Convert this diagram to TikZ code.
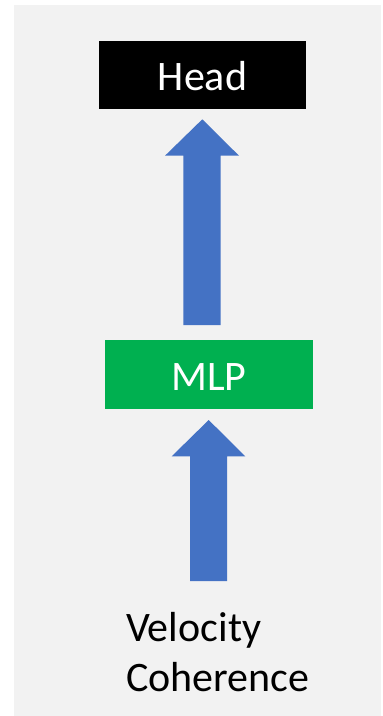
\documentclass[tikz,border=0pt]{standalone}
\usepackage{fontspec}
\setmainfont{Carlito}
\definecolor{bggray}{HTML}{F2F2F2}
\definecolor{arrowblue}{HTML}{4472C4}
\definecolor{mlpgreen}{HTML}{00B050}
\begin{document}
\begin{tikzpicture}[x=1pt,y=-1pt,
  box/.style={draw=none,inner sep=0pt,text=white,font=\fontsize{42}{50}\selectfont},
  label/.style={inner sep=0pt,anchor=base west,font=\fontsize{42}{50}\selectfont},
  blockarrow/.style={fill=arrowblue,draw=none}]
\useasboundingbox (0,0) rectangle (383,716);
\fill[bggray] (14,5) rectangle (381,716);
\node[box,fill=black,minimum width=207pt,minimum height=68pt] (head) at (202.5,75) {};
\node[box,anchor=base] (headtxt) at (202.5,90) {Head};
\node[box,fill=mlpgreen,minimum width=208pt,minimum height=69pt] (mlp) at (209,374.5) {};
\node[box,anchor=base] (mlptxt) at (209,390) {MLP};
\node[label] (vel) at (126,641) {Velocity};
\node[label] (coh) at (126,691) {Coherence};
% upper block arrow (MLP -> Head)
\fill[blockarrow] (183.3,325) -- (183.3,155.7) -- (165,155.7) -- (202.3,119.3) -- (239,155.7) -- (220.7,155.7) -- (220.7,325) -- cycle;
% lower block arrow (input -> MLP)
\fill[blockarrow] (190,581) -- (190,456.3) -- (171.7,456.3) -- (208.7,420) -- (245.3,456.3) -- (227,456.3) -- (227,581) -- cycle;
\end{tikzpicture}
\end{document}
